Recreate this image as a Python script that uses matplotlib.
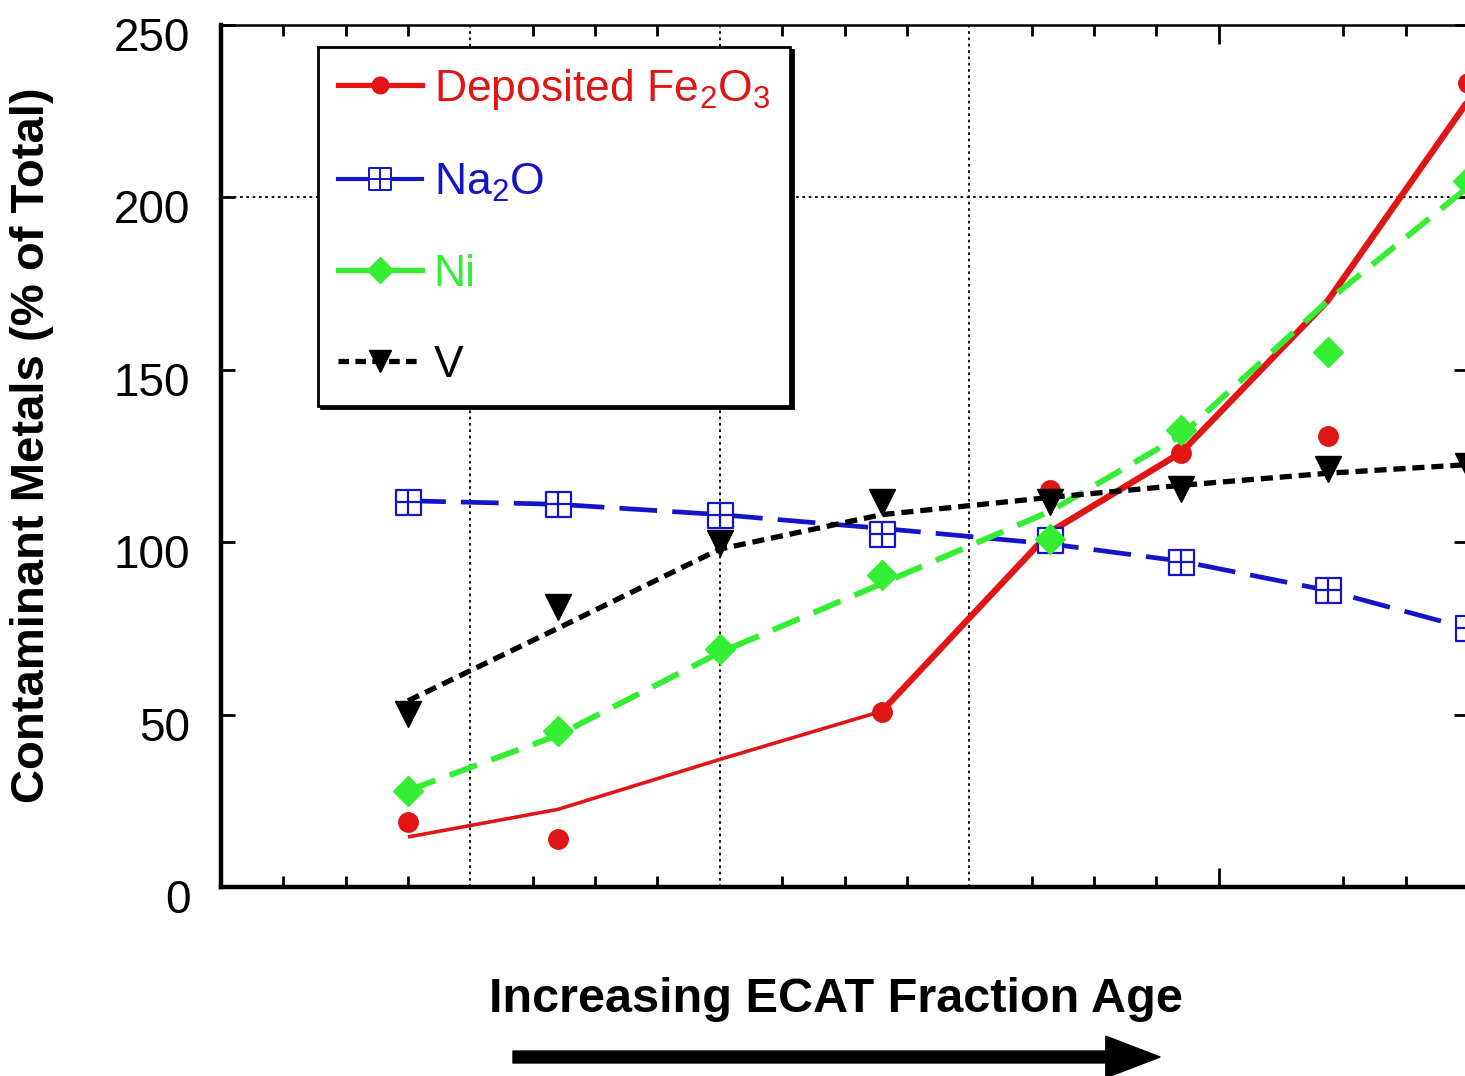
import matplotlib
matplotlib.use('Agg')
import matplotlib.pyplot as plt
import matplotlib.transforms as mtransforms
from matplotlib.path import Path
import numpy as np

# ---------------- data ----------------
age = [3.0, 5.4, 8.0, 10.6, 13.3, 15.4, 17.75, 20.0]

fe2o3_pts = [18.9, 13.9, np.nan, 50.8, 115.1, 125.9, 130.8, 233.2]
fe2o3_fit = [14.5, 22.5, 37.0, 51.0, 103.0, 126.0, 170.0, 228.0]

na2o_pts = [111.7, 111.1, 107.9, 102.4, 100.6, 94.2, 86.1, 75.1]
na2o_fit = [112.0, 111.0, 108.0, 104.0, 99.5, 94.5, 86.0, 75.0]

ni_pts = [27.8, 45.2, 69.0, 90.5, 101.0, 132.5, 155.2, 204.8]
ni_fit = [28.0, 44.0, 68.0, 88.0, 109.0, 131.0, 170.0, 203.0]

v_pts = [50.2, 81.2, 99.8, 111.7, 111.7, 115.4, 121.2, 122.1]
v_fit = [54.0, 75.0, 98.0, 108.0, 113.0, 116.5, 120.0, 122.5]

labels = [r'Deposited Fe$_2$O$_3$', r'Na$_2$O', 'Ni', 'V']
yticks = [0, 50, 100, 150, 200, 250]

RED = '#E01515'
BLUE = '#1414C8'
GREEN = '#33EE33'
BLACK = '#000000'

plt.rcParams['font.family'] = ['Liberation Sans', 'DejaVu Sans']
plt.rcParams['mathtext.fontset'] = 'custom'
plt.rcParams['mathtext.rm'] = 'Liberation Sans'
plt.rcParams['mathtext.it'] = 'Liberation Sans'

fig = plt.figure(figsize=(14.65, 10.76), dpi=100)
L, R, B, T = 221, 1468, 887, 25
W, H = 1465, 1076
ax = fig.add_axes([L / W, 1 - B / H, (R - L) / W, (B - T) / H])
ax.set_xlim(0, 20)
ax.set_ylim(0, 250)

# grid (only selected lines as in the reference)
for gx in [4, 8, 12]:
    ax.axvline(gx, color='black', lw=1.3, ls=(0, (1.5, 2.0)), zorder=1)
ax.axhline(200, color='black', lw=1.3, ls=(0, (1.5, 2.0)), zorder=1)

# square-with-plus marker
sqplus = Path([(-1, -1), (1, -1), (1, 1), (-1, 1), (-1, -1),
               (0, -1), (0, 1), (-1, 0), (1, 0)],
              [Path.MOVETO, Path.LINETO, Path.LINETO, Path.LINETO, Path.CLOSEPOLY,
               Path.MOVETO, Path.LINETO, Path.MOVETO, Path.LINETO])

# fit lines
ax.plot(age[:4], fe2o3_fit[:4], color=RED, lw=2.6, zorder=3, solid_capstyle='butt')
ax.plot(age[3:], fe2o3_fit[3:], color=RED, lw=4.6, zorder=3, solid_capstyle='round')
ax.plot(age, na2o_fit, color=BLUE, lw=3.4, dashes=(8, 3.2), zorder=3)
ax.plot(age, ni_fit, color=GREEN, lw=4.2, dashes=(5, 2.6), zorder=3)
ax.plot(age, v_fit, color=BLACK, lw=3.8, dashes=(2.3, 1.3), zorder=4)

# markers
ax.plot(age, fe2o3_pts, ls='none', marker='o', ms=14, color=RED, mec=RED, zorder=5, clip_on=False)
ax.plot(age, na2o_pts, ls='none', marker=sqplus, ms=18, mfc='white', mec=BLUE, mew=1.6, zorder=5, clip_on=False)
ax.plot(age, ni_pts, ls='none', marker='D', ms=15, color=GREEN, mec=GREEN, zorder=5, clip_on=False)
ax.plot(age, v_pts, ls='none', marker='v', ms=19, color=BLACK, zorder=6, clip_on=False)

# legend handles
h_fe = plt.Line2D([], [], color=RED, lw=3.8, marker='o', ms=12)
h_na = plt.Line2D([], [], color=BLUE, lw=3.0, marker=sqplus, ms=16, mfc='white', mec=BLUE, mew=1.4)
h_ni = plt.Line2D([], [], color=GREEN, lw=3.8, marker='D', ms=13)
h_v = plt.Line2D([], [], color=BLACK, lw=3.8, dashes=(2.0, 1.2), marker='v', ms=16)
leg = ax.legend([h_fe, h_na, h_ni, h_v], labels,
                loc='upper left', bbox_to_anchor=((318 - L) / (R - L), (B - 47) / (B - T)),
                borderaxespad=0, fontsize=32, handlelength=1.9, handletextpad=0.25,
                borderpad=0.45, labelspacing=1.12, fancybox=False,
                shadow={'color': 'black', 'alpha': 1.0}, framealpha=1)
leg.get_frame().set_edgecolor('black')
leg.get_frame().set_linewidth(2.0)
for txt, c in zip(leg.get_texts(), [RED, BLUE, GREEN, BLACK]):
    txt.set_color(c)
leg.set_zorder(10)

# axes styling
for s in ['left', 'bottom']:
    ax.spines[s].set_linewidth(3.2)
for s in ['top', 'right']:
    ax.spines[s].set_linewidth(1.8)

ax.set_yticks(yticks)
ax.set_yticklabels([str(v) for v in yticks])
ax.tick_params(axis='y', which='major', direction='in', length=10, width=2,
               labelsize=33, pad=22, right=True, left=True)
shift = mtransforms.ScaledTranslation(0, -9 / 100, fig.dpi_scale_trans)
for lab in ax.get_yticklabels():
    lab.set_transform(lab.get_transform() + shift)
ax.set_xticks([16])
ax.set_xticklabels([])
ax.set_xticks([1, 2, 3, 5, 6, 7, 9, 10, 11, 13, 14, 15, 18, 19], minor=True)
ax.tick_params(axis='x', which='major', direction='in', length=14, width=2, top=True, bottom=True)
ax.tick_params(axis='x', which='minor', direction='in', length=8, width=2, top=True, bottom=True)

ax.set_ylabel('Contaminant Metals (% of Total)', fontsize=34, fontweight='bold')
ax.yaxis.set_label_coords(-(L - 54) / (R - L), (B - 445) / (B - T))

fig.text(836 / W, 1 - 999 / H, 'Increasing ECAT Fraction Age', fontsize=35, fontweight='bold',
         ha='center', va='center')

ax.annotate('', xy=(1160 / W, 1 - 1057 / H), xytext=(513 / W, 1 - 1057 / H),
            xycoords='figure fraction', textcoords='figure fraction',
            arrowprops=dict(arrowstyle='simple,head_length=1.95,head_width=1.5,tail_width=0.43',
                            mutation_scale=20, color='black', shrinkA=0, shrinkB=0))

fig.savefig('out.png', dpi=100)
